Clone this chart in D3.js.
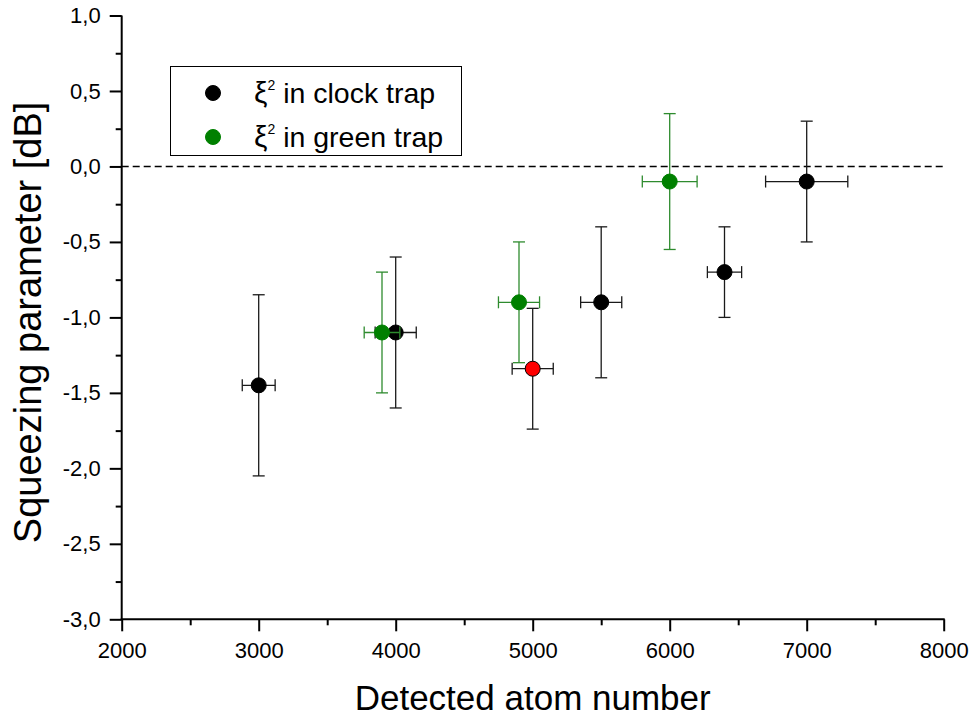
<!DOCTYPE html>
<html>
<head>
<meta charset="utf-8">
<script src="https://cdn.jsdelivr.net/npm/d3@7"></script>
<style>
  html, body { margin: 0; padding: 0; background: #fff; }
  svg { display: block; font-family: Arial, "Liberation Sans", sans-serif; }
</style>
</head>
<body>
<svg id="chart" width="973" height="718"></svg>
<script>
// ---- Data ----
const clockX    = [3000, 4000, 5500, 6400, 7000];
const clockY    = [-1.45, -1.1, -0.9, -0.7, -0.1];
const clockXErr = [120, 150, 150, 125, 300];
const clockYErr = [0.6, 0.5, 0.5, 0.3, 0.4];

const greenX    = [3900, 4900, 6000];
const greenY    = [-1.1, -0.9, -0.1];
const greenXErr = [130, 150, 200];
const greenYErr = [0.4, 0.4, 0.45];

const redX    = [5000];
const redY    = [-1.34];
const redXErr = [150];
const redYErr = [0.4];

const xTicks = [2000, 3000, 4000, 5000, 6000, 7000, 8000];
const yTicks = [1.0, 0.5, 0.0, -0.5, -1.0, -1.5, -2.0, -2.5, -3.0];
const legendLabels = ["in clock trap", "in green trap"];

// ---- Layout ----
const svg = d3.select("#chart");
const x = d3.scaleLinear().domain([2000, 8000]).range([121.7, 943.7]);
const y = d3.scaleLinear().domain([-3, 1]).range([619.3, 15.5]);

const fmt = d => d3.format(".1f")(d).replace(".", ",").replace("−", "-");

// Minor ticks
const xMinor = d3.range(2500, 8000, 1000);
const yMinor = d3.range(-2.75, 1, 0.5);

const gx = svg.append("g").attr("transform", `translate(0,${y(-3)})`);
gx.call(d3.axisBottom(x).tickValues(xTicks).tickSize(12).tickSizeOuter(0).tickPadding(8).tickFormat(d3.format("d")));
const gxm = svg.append("g").attr("transform", `translate(0,${y(-3)})`);
gxm.call(d3.axisBottom(x).tickValues(xMinor).tickSize(6).tickSizeOuter(0).tickFormat(""));
gxm.select(".domain").remove();

const gy = svg.append("g").attr("transform", `translate(${x(2000)},0)`);
gy.call(d3.axisLeft(y).tickValues(yTicks).tickSize(12).tickSizeOuter(0).tickPadding(9).tickFormat(fmt));
const gym = svg.append("g").attr("transform", `translate(${x(2000)},0)`);
gym.call(d3.axisLeft(y).tickValues(yMinor).tickSize(6).tickSizeOuter(0).tickFormat(""));
gym.select(".domain").remove();

svg.selectAll(".domain, .tick line").attr("stroke", "#000").attr("stroke-width", 2);
svg.selectAll(".tick text").attr("fill", "#000").style("font-size", "22px");
gx.selectAll(".tick text").attr("dy", "0.85em");
gx.select(".domain").attr("d", `M${x(2000)-1},0H${x(8000)+1}`);
gy.select(".domain").attr("d", `M0,${y(1)}V${y(-3)+1}`);

// Axis titles
svg.append("text")
  .attr("x", (x(2000) + x(8000)) / 2)
  .attr("y", 710)
  .attr("text-anchor", "middle")
  .style("font-size", "35px")
  .text("Detected atom number");

svg.append("text")
  .attr("transform", `translate(41,${(y(1) + y(-3)) / 2 + 5}) rotate(-90)`)
  .attr("text-anchor", "middle")
  .style("font-size", "38px")
  .text("Squeezing parameter [dB]");

// Dashed zero line
svg.append("line")
  .attr("x1", x(2000)).attr("x2", x(8000))
  .attr("y1", y(0)).attr("y2", y(0))
  .attr("stroke", "#000").attr("stroke-width", 1.6)
  .attr("stroke-dasharray", "7,4");

// Error bars + points
const cap = 6;
function drawSeries(xs, ys, xe, ye, barColor, fill, stroke) {
  const data = xs.map((v, i) => ({ x: v, y: ys[i], xe: xe[i], ye: ye[i] }));
  const g = svg.append("g");
  const bars = g.selectAll("g.eb").data(data).join("g").attr("class", "eb")
    .attr("stroke", barColor).attr("stroke-width", 1.3).attr("fill", "none");
  bars.append("line")
    .attr("x1", d => x(d.x)).attr("x2", d => x(d.x))
    .attr("y1", d => y(d.y + d.ye)).attr("y2", d => y(d.y - d.ye));
  bars.append("line")
    .attr("x1", d => x(d.x) - cap).attr("x2", d => x(d.x) + cap)
    .attr("y1", d => y(d.y + d.ye)).attr("y2", d => y(d.y + d.ye));
  bars.append("line")
    .attr("x1", d => x(d.x) - cap).attr("x2", d => x(d.x) + cap)
    .attr("y1", d => y(d.y - d.ye)).attr("y2", d => y(d.y - d.ye));
  bars.append("line")
    .attr("x1", d => x(d.x - d.xe)).attr("x2", d => x(d.x + d.xe))
    .attr("y1", d => y(d.y)).attr("y2", d => y(d.y));
  bars.append("line")
    .attr("x1", d => x(d.x - d.xe)).attr("x2", d => x(d.x - d.xe))
    .attr("y1", d => y(d.y) - cap).attr("y2", d => y(d.y) + cap);
  bars.append("line")
    .attr("x1", d => x(d.x + d.xe)).attr("x2", d => x(d.x + d.xe))
    .attr("y1", d => y(d.y) - cap).attr("y2", d => y(d.y) + cap);
  g.selectAll("circle").data(data).join("circle")
    .attr("cx", d => x(d.x)).attr("cy", d => y(d.y)).attr("r", 7.5)
    .attr("fill", fill).attr("stroke", stroke).attr("stroke-width", 1);
}
drawSeries(clockX, clockY, clockXErr, clockYErr, "#1a1a1a", "#000", "#000");
drawSeries(greenX, greenY, greenXErr, greenYErr, "#2e8b2e", "#008000", "#008000");
drawSeries(redX, redY, redXErr, redYErr, "#1a1a1a", "#ff0000", "#000");

// Legend
const lg = svg.append("g");
lg.append("rect")
  .attr("x", 170.5).attr("y", 66.5).attr("width", 291).attr("height", 89)
  .attr("fill", "#fff").attr("stroke", "#000").attr("stroke-width", 1);
const legendColors = ["#000", "#008000"];
legendLabels.forEach((lab, i) => {
  const cy = 93 + i * 44;
  lg.append("circle").attr("cx", 213).attr("cy", cy).attr("r", 7.5)
    .attr("fill", legendColors[i]).attr("stroke", legendColors[i]);
  const t = lg.append("text").attr("x", 254).attr("y", cy + 10).style("font-size", "28.5px");
  t.append("tspan").style("font-size", "30px").text("ξ");
  t.append("tspan").attr("dy", -13).style("font-size", "14px").text("2");
  t.append("tspan").attr("dy", 13).text(" " + lab);
});
</script>
</body>
</html>
